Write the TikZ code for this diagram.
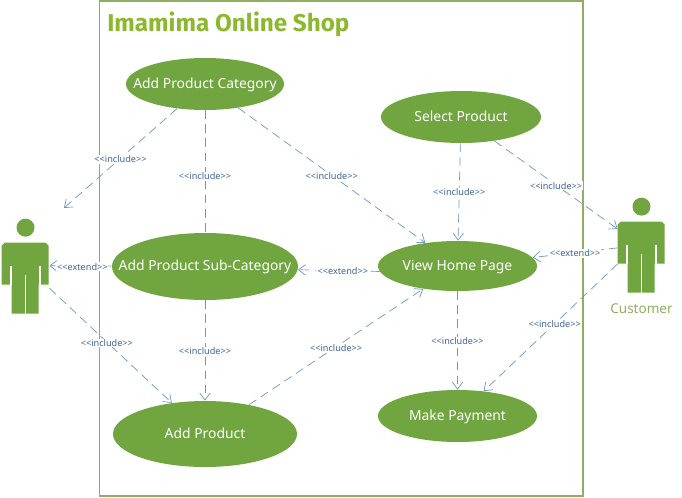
\documentclass[tikz,border=0pt]{standalone}
\usepackage{fontspec}
\setmainfont{Noto Sans}
\newfontfamily\titlefont{Fira Sans}
\usepackage{xcolor}
\usetikzlibrary{shapes.geometric}
\usetikzlibrary{arrows.meta}
\definecolor{usegreen}{HTML}{70A53F}
\definecolor{framegreen}{HTML}{8FAE5F}
\definecolor{titlegreen}{HTML}{8CB82F}
\definecolor{linkblue}{HTML}{6F96C2}
\definecolor{tagblue}{HTML}{3F6595}
\tikzset{
  usecase/.style={ellipse,fill=usegreen,text=white,inner xsep=-25pt,inner ysep=-8pt,text height=5pt,text depth=0pt,font=\fontsize{7.9}{10}\selectfont},
  link/.style={draw=linkblue,line width=0.4pt,dash pattern=on 5pt off 3pt},
  linkto/.style={link,-{Straight Barb[length=4pt,width=6pt]}},
  tag/.style={fill=white,inner sep=0.5pt,yshift=-0.5pt,text=tagblue,font=\fontsize{5.2}{6}\selectfont},
  actorbody/.style={minimum width=47*0.02cm,minimum height=71*0.02cm,inner sep=0pt},
}
\newcommand{\inctag}{<{}<include>{}>}
\newcommand{\exttag}{<{}<extend>{}>}
\newcommand{\drawactor}[1]{%
  \fill[usegreen] (#1.north) ++(0,-15) circle (9);
  \fill[usegreen] (#1.north west) ++(3,0) -- ++(41,0) -- ++(3,3) -- ++(0,39) -- ++(-10,0) -- ++(0,29)
    -- ++(-27,0) -- ++(0,-29) -- ++(-10,0) -- ++(0,-39) -- cycle;
  \draw[white,thick] (#1.north) ++(-14.5,23) -- ++(0,19);
  \draw[white,thick] (#1.north) ++(14.5,23) -- ++(0,19);
  \draw[white,thick] (#1.north) ++(0,32) -- ++(0,39);
}
\begin{document}
\begin{tikzpicture}[x=0.02cm,y=-0.02cm]
    \useasboundingbox (0,0) rectangle (682,497);
    \draw[framegreen,line width=0.6pt] (99.5,1) rectangle (583,496);
    \node[anchor=west,inner sep=0pt,text=titlegreen,font=\titlefont\bfseries\fontsize{13.8}{16}\selectfont] (title) at (107,24.5) {Imamima Online Shop};

    \node[usecase,minimum width=158*0.02cm,minimum height=52*0.02cm] (apc) at (205,84) {Add Product Category};
    \node[usecase,minimum width=160*0.02cm,minimum height=52*0.02cm] (sp) at (461,117) {Select Product};
    \node[usecase,minimum width=186*0.02cm,minimum height=67*0.02cm] (apsc) at (205,266.5) {Add Product Sub-Category};
    \node[usecase,minimum width=159*0.02cm,minimum height=50*0.02cm] (vhp) at (457.5,266) {View Home Page};
    \node[usecase,minimum width=184*0.02cm,minimum height=66*0.02cm] (ap) at (205,434) {Add Product};
    \node[usecase,minimum width=159*0.02cm,minimum height=52*0.02cm] (mp) at (457.5,416) {Make Payment};

    \node[actorbody] (admin) at (25.5,278.5) {};
    \node[actorbody] (customer) at (641.5,257.5) {};
    \drawactor{admin}
    \drawactor{customer}
    \node[text=framegreen,font=\fontsize{7.7}{9}\selectfont] (custlabel) at (641.5,308.5) {Customer};
    \coordinate (adminfree) at (64,208);

    \draw[linkto] (apc) -- (adminfree) node[tag,pos=0.5] {\inctag};
    \draw[link] (apc) -- (apsc) node[tag,pos=0.53] {\inctag};
    \draw[linkto] (apc) -- (vhp) node[tag,pos=0.5] {\inctag};
    \draw[linkto] (sp) -- (vhp) node[tag,pos=0.49] {\inctag};
    \draw[linkto] (sp) -- (customer.130) node[tag,pos=0.5] {\inctag};
    \draw[linkto] (customer.158) -- (vhp) node[tag,pos=0.5] {\exttag};
    \draw[linkto] (customer.195) -- (mp) node[tag,pos=0.47] {\inctag};
    \draw[linkto] (vhp.184) -- (apsc.-2) node[tag,pos=0.45] {\exttag};
    \draw[linkto] (apsc) -- (admin.28) node[tag,pos=0.47] {\exttag};
    \draw[linkto] (admin.-22) -- (ap) node[tag,pos=0.47] {\inctag};
    \draw[linkto] (apsc) -- (ap) node[tag,pos=0.5] {\inctag};
    \draw[linkto] (ap) -- (vhp) node[tag,pos=0.5] {\inctag};
    \draw[linkto] (vhp) -- (mp) node[tag,pos=0.5] {\inctag};
\end{tikzpicture}
\end{document}
